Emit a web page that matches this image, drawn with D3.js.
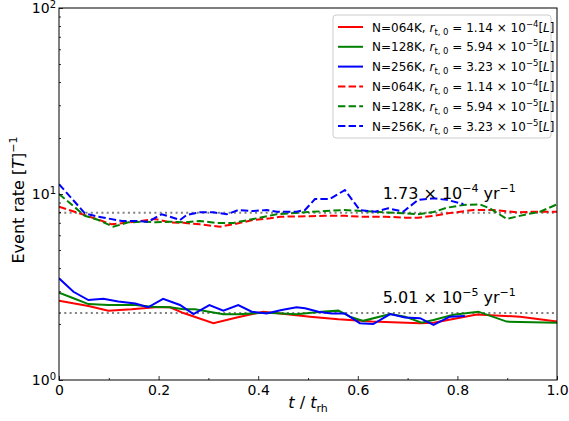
<!DOCTYPE html>
<html>
<head>
<meta charset="utf-8">
<script src="https://cdn.jsdelivr.net/npm/d3@7"></script>
<style>
  body { margin: 0; background: #fff; }
  svg { display: block; font-family: "DejaVu Sans", sans-serif; }
</style>
</head>
<body>
<svg id="chart" width="569" height="421"></svg>
<script>
// Data (t / t_rh, event rate [T]^-1)
const tSolid064 = [0, 0.059, 0.099, 0.146, 0.193, 0.223, 0.250, 0.310, 0.357, 0.410, 0.444, 0.504, 0.561, 0.628, 0.725, 0.752, 0.839, 0.926, 1.0];
const vSolid064 = [2.67, 2.50, 2.36, 2.40, 2.46, 2.46, 2.29, 2.02, 2.17, 2.33, 2.28, 2.19, 2.12, 2.06, 2.02, 2.03, 2.25, 2.19, 2.06];

const tSolid128 = [0, 0.029, 0.059, 0.099, 0.153, 0.186, 0.223, 0.250, 0.273, 0.330, 0.360, 0.417, 0.477, 0.527, 0.561, 0.584, 0.611, 0.665, 0.695, 0.728, 0.752, 0.792, 0.842, 0.899, 1.0];
const vSolid128 = [2.95, 2.75, 2.56, 2.53, 2.53, 2.48, 2.46, 2.40, 2.40, 2.26, 2.26, 2.30, 2.26, 2.33, 2.36, 2.19, 2.08, 2.26, 2.19, 2.03, 2.10, 2.24, 2.33, 2.06, 2.03];

const tSolid256 = [0, 0.029, 0.059, 0.089, 0.119, 0.153, 0.179, 0.209, 0.243, 0.270, 0.302, 0.330, 0.360, 0.387, 0.417, 0.447, 0.477, 0.494, 0.521, 0.547, 0.574, 0.604, 0.631, 0.665, 0.695, 0.725, 0.752, 0.785, 0.815];
const vSolid256 = [3.52, 2.98, 2.69, 2.73, 2.64, 2.58, 2.46, 2.73, 2.53, 2.26, 2.53, 2.36, 2.53, 2.33, 2.28, 2.38, 2.46, 2.43, 2.33, 2.28, 2.28, 2.02, 2.00, 2.26, 2.17, 2.15, 1.98, 2.19, 2.21];

const tDash064 = [0, 0.052, 0.106, 0.153, 0.193, 0.223, 0.250, 0.283, 0.323, 0.350, 0.390, 0.424, 0.444, 0.504, 0.534, 0.574, 0.611, 0.655, 0.695, 0.721, 0.752, 0.781, 0.832, 0.872, 0.919, 0.952, 1.0];
const vDash064 = [8.55, 7.70, 6.87, 7.10, 7.34, 7.04, 7.00, 6.87, 6.67, 6.87, 7.25, 7.40, 7.55, 7.60, 7.63, 7.63, 7.55, 7.55, 7.46, 7.46, 7.63, 7.87, 8.20, 8.20, 7.97, 8.03, 8.03];

const tDash128 = [0, 0.052, 0.079, 0.109, 0.139, 0.173, 0.193, 0.223, 0.250, 0.283, 0.316, 0.350, 0.397, 0.437, 0.494, 0.534, 0.574, 0.611, 0.655, 0.695, 0.721, 0.752, 0.779, 0.812, 0.845, 0.865, 0.899, 0.939, 0.966, 1.0];
const vDash128 = [10.0, 7.64, 7.25, 6.67, 7.04, 7.10, 7.04, 7.10, 7.04, 7.16, 6.99, 6.99, 7.40, 7.78, 7.97, 8.10, 8.20, 8.10, 7.97, 7.87, 7.78, 8.00, 8.44, 8.73, 8.80, 8.38, 7.34, 7.78, 8.03, 8.80];

const tDash256 = [0, 0.052, 0.079, 0.126, 0.153, 0.179, 0.206, 0.223, 0.243, 0.256, 0.283, 0.310, 0.337, 0.360, 0.390, 0.417, 0.437, 0.477, 0.494, 0.514, 0.544, 0.574, 0.604, 0.635, 0.661, 0.691, 0.721, 0.752, 0.779, 0.812];
const vDash256 = [11.3, 7.87, 7.55, 7.16, 7.16, 7.10, 7.78, 7.55, 7.25, 7.70, 7.97, 7.97, 7.78, 8.20, 8.10, 8.20, 8.03, 8.03, 8.20, 9.40, 9.40, 10.5, 8.20, 8.03, 8.38, 8.03, 9.29, 9.48, 9.30, 8.84];

// mean rates (dotted reference lines) and their labels
const refRates = [7.93, 2.29];
const refMantissa = ["1.73", "5.01"];
const refExponent = ["\u22124", "\u22125"];
const refLabelY = [9.4, 2.6];

const nLabels = ["064K", "128K", "256K"];
const rMantissa = ["1.14", "5.94", "3.23"];
const rExponent = ["\u22124", "\u22125", "\u22125"];
const colors = ["#ff0000", "#008000", "#0000ff"];

const xTickVals = [0, 0.2, 0.4, 0.6, 0.8, 1.0];
const xTickText = ["0", "0.2", "0.4", "0.6", "0.8", "1.0"];
const xMinorVals = [0.1, 0.3, 0.5, 0.7, 0.9];
const yTickVals = [1, 10, 100];
const yTickExp = ["0", "1", "2"];

// layout
const svg = d3.select("#chart");
const mLeft = 59, mRight = 557, mTop = 8, mBottom = 380;

const x = d3.scaleLinear().domain([0, 1]).range([mLeft, mRight]);
const y = d3.scaleLog().domain([1, 100]).range([mBottom, mTop]);

svg.append("defs").append("clipPath").attr("id", "clip")
  .append("rect").attr("x", mLeft).attr("y", mTop)
  .attr("width", mRight - mLeft).attr("height", mBottom - mTop);

const plot = svg.append("g").attr("clip-path", "url(#clip)");

// dotted reference lines
plot.selectAll(".ref")
  .data(refRates)
  .enter().append("line")
  .attr("x1", x(0)).attr("x2", x(1))
  .attr("y1", d => y(d)).attr("y2", d => y(d))
  .attr("stroke", "#808080")
  .attr("stroke-width", 2)
  .attr("stroke-dasharray", "2,3.3");

const line = d3.line()
  .x(d => x(d[0]))
  .y(d => y(d[1]));

const series = [
  { t: tSolid064, v: vSolid064, c: colors[0], dash: null },
  { t: tSolid128, v: vSolid128, c: colors[1], dash: null },
  { t: tSolid256, v: vSolid256, c: colors[2], dash: null },
  { t: tDash064, v: vDash064, c: colors[0], dash: "7.4,3.2" },
  { t: tDash128, v: vDash128, c: colors[1], dash: "7.4,3.2" },
  { t: tDash256, v: vDash256, c: colors[2], dash: "7.4,3.2" }
];

series.forEach(s => {
  plot.append("path")
    .attr("d", line(d3.zip(s.t, s.v)))
    .attr("fill", "none")
    .attr("stroke", s.c)
    .attr("stroke-width", 2)
    .attr("stroke-dasharray", s.dash);
});

// frame
svg.append("rect")
  .attr("x", mLeft).attr("y", mTop)
  .attr("width", mRight - mLeft).attr("height", mBottom - mTop)
  .attr("fill", "none").attr("stroke", "#000").attr("stroke-width", 1);

// x axis (ticks pointing inward)
const xAxis = svg.append("g").attr("transform", `translate(0,${mBottom})`)
  .call(d3.axisBottom(x).tickValues(xTickVals).tickSize(-4).tickPadding(5)
    .tickFormat((d, i) => xTickText[i]));
svg.append("g").attr("transform", `translate(0,${mBottom})`)
  .call(d3.axisBottom(x).tickValues(xMinorVals).tickSize(-2).tickFormat(""));

// y axis
const yMinor = [];
[1, 10].forEach(b => d3.range(2, 10).forEach(k => yMinor.push(b * k)));
const yAxis = svg.append("g").attr("transform", `translate(${mLeft},0)`)
  .call(d3.axisLeft(y).tickValues(yTickVals).tickSize(-4).tickPadding(3)
    .tickFormat(""));
svg.append("g").attr("transform", `translate(${mLeft},0)`)
  .call(d3.axisLeft(y).tickValues(yMinor).tickSize(-2).tickFormat(""));

svg.selectAll(".domain").remove();
svg.selectAll(".tick line").attr("stroke", "#000").attr("stroke-width", 0.8);
xAxis.selectAll("text").attr("font-size", 14).attr("font-family", "DejaVu Sans").attr("fill", "#000");

yAxis.selectAll(".tick").each(function(d, i) {
  const txt = d3.select(this).select("text")
    .attr("font-size", 14).attr("font-family", "DejaVu Sans").attr("fill", "#000")
    .attr("dy", "0.35em");
  txt.append("tspan").text("10");
  txt.append("tspan").attr("font-size", 10).attr("dy", -5).text(yTickExp[i]);
});

// axis labels
svg.append("text")
  .attr("x", (mLeft + mRight) / 2).attr("y", 408)
  .attr("text-anchor", "middle").attr("font-size", 16)
  .call(t => {
    t.append("tspan").attr("font-style", "italic").text("t");
    t.append("tspan").text(" / ");
    t.append("tspan").attr("font-style", "italic").text("t");
    t.append("tspan").attr("font-size", 11).attr("dy", 4).text("rh");
  });

svg.append("text")
  .attr("transform", "translate(24,200) rotate(-90)")
  .attr("text-anchor", "middle").attr("font-size", 16)
  .call(t => {
    t.append("tspan").text("Event rate [");
    t.append("tspan").attr("font-style", "italic").text("T");
    t.append("tspan").text("]");
    t.append("tspan").attr("font-size", 11).attr("dy", -7).text("\u22121");
  });

// rate annotations
refRates.forEach((r, i) => {
  const t = svg.append("text")
    .attr("x", x(0.65)).attr("y", y(refLabelY[i]))
    .attr("font-size", 16);
  t.append("tspan").text(refMantissa[i] + " \u00d7 10");
  t.append("tspan").attr("font-size", 11).attr("dy", -7).text(refExponent[i]);
  t.append("tspan").attr("dy", 7).text(" yr");
  t.append("tspan").attr("font-size", 11).attr("dy", -7).text("\u22121");
});

// legend
const legend = svg.append("g");
legend.append("rect")
  .attr("x", 333).attr("y", 15).attr("width", 218).attr("height", 123)
  .attr("rx", 3).attr("fill", "#fff").attr("fill-opacity", 0.8)
  .attr("stroke", "#cccccc").attr("stroke-width", 1);

series.forEach((s, i) => {
  const k = i % 3;
  const cy = 27 + i * 19.8;
  legend.append("line")
    .attr("x1", 338).attr("x2", 363).attr("y1", cy).attr("y2", cy)
    .attr("stroke", s.c).attr("stroke-width", 2)
    .attr("stroke-dasharray", s.dash);
  const t = legend.append("text")
    .attr("x", 372).attr("y", cy + 4.5).attr("font-size", 12);
  t.append("tspan").text(`N=${nLabels[k]}, `);
  t.append("tspan").attr("font-style", "italic").text("r");
  t.append("tspan").attr("font-size", 8.5).attr("dy", 3).text("t, 0");
  t.append("tspan").attr("dy", -3).text(` = ${rMantissa[k]} \u00d7 10`);
  t.append("tspan").attr("font-size", 8.5).attr("dy", -5).text(rExponent[k]);
  t.append("tspan").attr("dy", 5).text("[");
  t.append("tspan").attr("font-style", "italic").text("L");
  t.append("tspan").text("]");
});
</script>
</body>
</html>
